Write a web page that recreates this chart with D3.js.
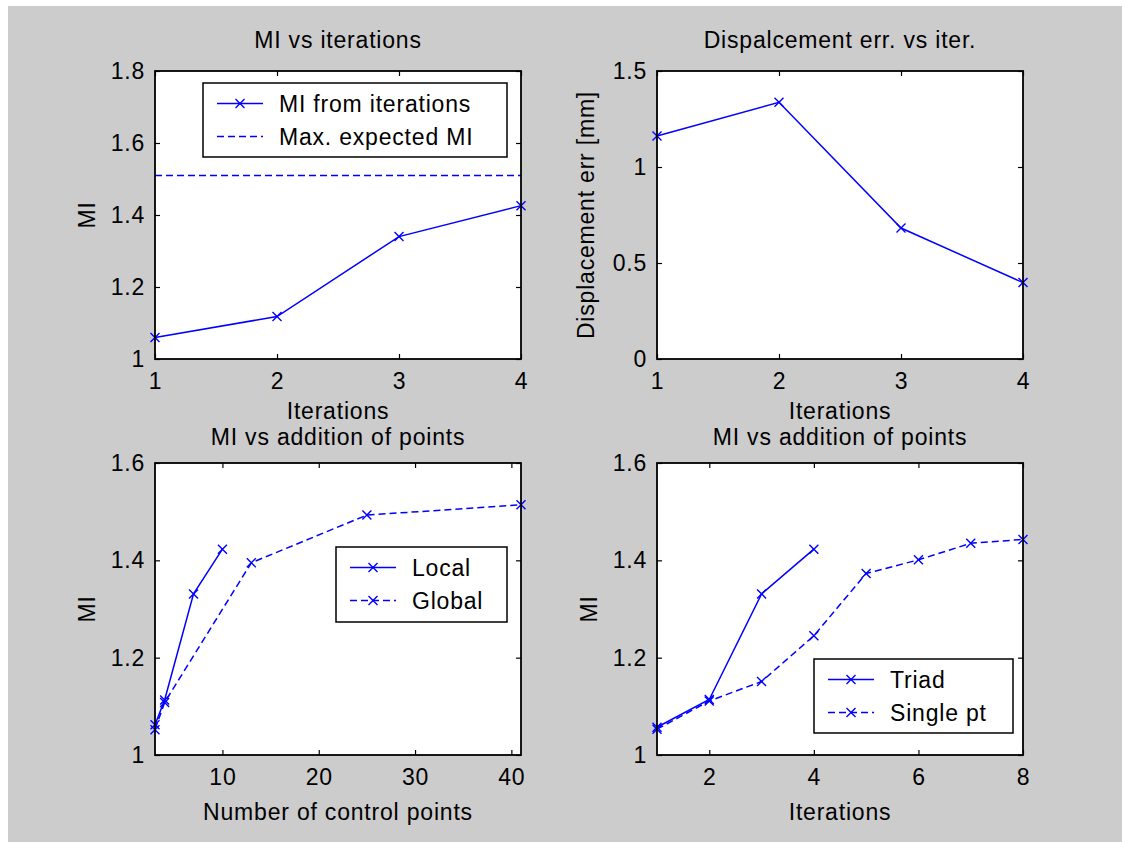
<!DOCTYPE html>
<html>
<head>
<meta charset="utf-8">
<script src="https://cdn.jsdelivr.net/npm/d3@7"></script>
<style>
  html, body { margin: 0; padding: 0; background: #fff; }
  svg text { font-family: "Liberation Sans", Arial, Helvetica, sans-serif; fill: #000; letter-spacing: 0.8px; }
</style>
</head>
<body>
<div id="chart"></div>
<script>
// ---- data ----
const iterations = [1, 2, 3, 4];
const miFromIterations = [1.06, 1.118, 1.34, 1.426];
const maxExpectedMI = 1.51;
const displacementErr = [1.161, 1.337, 0.682, 0.398];

const localPoints = [3, 4, 7, 10];
const localMI = [1.062, 1.113, 1.331, 1.423];
const globalPoints = [3, 4, 13, 25, 41];
const globalMI = [1.052, 1.108, 1.395, 1.493, 1.514];

const triadIter = [1, 2, 3, 4];
const triadMI = [1.057, 1.114, 1.331, 1.423];
const singleIter = [1, 2, 3, 4, 5, 6, 7, 8];
const singleMI = [1.053, 1.111, 1.151, 1.245, 1.373, 1.401, 1.435, 1.443];

// tick labels
const iterTicks = [1, 2, 3, 4];
const miTicksTop = [1, 1.2, 1.4, 1.6, 1.8];
const dispTicks = [0, 0.5, 1, 1.5];
const pointTicks = [10, 20, 30, 40];
const miTicksBottom = [1, 1.2, 1.4, 1.6];
const iterTicks8 = [2, 4, 6, 8];

const titles = ['MI vs iterations', 'Dispalcement err. vs iter.', 'MI vs addition of points', 'MI vs addition of points'];
const xLabels = ['Iterations', 'Iterations', 'Number of control points', 'Iterations'];
const yLabels = ['MI', 'Displacement err [mm]', 'MI', 'MI'];

function draw() {
  const W = 1122, H = 842;
  const blue = '#0000ff';
  const fmt = d3.format('~g');

  const svg = d3.select('#chart').append('svg')
    .attr('width', W).attr('height', H);

  svg.append('rect').attr('width', W).attr('height', H).attr('fill', '#fff');
  svg.append('rect').attr('x', 8).attr('y', 6)
    .attr('width', W - 8).attr('height', H - 6).attr('fill', '#cccccc');

  const panels = [
    {
      box: { x: 155, y: 71, w: 366, h: 288 }, xDomain: [1, 4], yDomain: [1, 1.8],
      xTicks: iterTicks, yTicks: miTicksTop, titleDy: 23, xlabelDy: 60, ylabelDx: 60,
      series: [
        { x: iterations, y: miFromIterations, dash: false, marker: true, name: 'MI from iterations' },
        { x: [iterations[0], iterations[iterations.length - 1]], y: [maxExpectedMI, maxExpectedMI], dash: true, marker: false, name: 'Max. expected MI' }
      ],
      legend: { right: 507, top: 83, width: 304, height: 74 }
    },
    {
      box: { x: 657, y: 71, w: 366, h: 288 }, xDomain: [1, 4], yDomain: [0, 1.5],
      xTicks: iterTicks, yTicks: dispTicks, titleDy: 23, xlabelDy: 60, ylabelDx: 63,
      series: [
        { x: iterations, y: displacementErr, dash: false, marker: true }
      ]
    },
    {
      box: { x: 155, y: 463, w: 366, h: 292 }, xDomain: [3, 41], yDomain: [1, 1.6],
      xTicks: pointTicks, yTicks: miTicksBottom, titleDy: 18, xlabelDy: 65, ylabelDx: 60,
      series: [
        { x: localPoints, y: localMI, dash: false, marker: true, name: 'Local' },
        { x: globalPoints, y: globalMI, dash: true, marker: true, name: 'Global' }
      ],
      legend: { right: 507, top: 547, width: 171, height: 75 }
    },
    {
      box: { x: 657, y: 463, w: 366, h: 292 }, xDomain: [1, 8], yDomain: [1, 1.6],
      xTicks: iterTicks8, yTicks: miTicksBottom, titleDy: 18, xlabelDy: 65, ylabelDx: 60,
      series: [
        { x: triadIter, y: triadMI, dash: false, marker: true, name: 'Triad' },
        { x: singleIter, y: singleMI, dash: true, marker: true, name: 'Single pt' }
      ],
      legend: { right: 1013, top: 659, width: 199, height: 74 }
    }
  ];

  const tick = 5;
  const fontSize = 23;

  // draws an 'x' marker centred on (cx, cy)
  function cross(g, cx, cy) {
    const s = 4.5;
    g.append('path')
      .attr('d', `M${cx - s},${cy - s}L${cx + s},${cy + s}M${cx - s},${cy + s}L${cx + s},${cy - s}`)
      .attr('stroke', blue).attr('stroke-width', 1.4).attr('fill', 'none');
  }

  panels.forEach((p, i) => {
    const b = p.box;
    const g = svg.append('g').attr('transform', `translate(${b.x},${b.y})`);

    const x = d3.scaleLinear().domain(p.xDomain).range([0, b.w]);
    const y = d3.scaleLinear().domain(p.yDomain).range([b.h, 0]);

    g.append('rect').attr('width', b.w).attr('height', b.h).attr('fill', '#fff');

    // axes with inward ticks on all four sides
    const styleAxis = sel => {
      sel.select('.domain').remove();
      sel.selectAll('.tick line').attr('stroke', '#000').attr('stroke-width', 1.2);
      sel.selectAll('.tick text').attr('font-size', fontSize).attr('fill', '#000');
    };

    g.append('g').attr('transform', `translate(0,${b.h})`)
      .call(d3.axisBottom(x).tickValues(p.xTicks).tickFormat(fmt)
        .tickSizeInner(-tick).tickSizeOuter(0).tickPadding(14))
      .call(styleAxis);
    g.append('g')
      .call(d3.axisTop(x).tickValues(p.xTicks).tickFormat('')
        .tickSizeInner(-tick).tickSizeOuter(0))
      .call(styleAxis);
    g.append('g')
      .call(d3.axisLeft(y).tickValues(p.yTicks).tickFormat(fmt)
        .tickSizeInner(-tick).tickSizeOuter(0).tickPadding(10))
      .call(styleAxis);
    g.append('g').attr('transform', `translate(${b.w},0)`)
      .call(d3.axisRight(y).tickValues(p.yTicks).tickFormat('')
        .tickSizeInner(-tick).tickSizeOuter(0))
      .call(styleAxis);

    g.selectAll('.tick text').style('font-family', '"Liberation Sans", Arial, sans-serif');

    // series
    const line = d3.line().x(d => x(d[0])).y(d => y(d[1]));
    p.series.forEach(s => {
      const pts = s.x.map((v, k) => [v, s.y[k]]);
      g.append('path').datum(pts)
        .attr('d', line)
        .attr('fill', 'none')
        .attr('stroke', blue)
        .attr('stroke-width', 1.5)
        .attr('stroke-dasharray', s.dash ? '7,4' : null);
      if (s.marker) pts.forEach(d => cross(g, x(d[0]), y(d[1])));
    });

    // frame
    g.append('rect').attr('width', b.w).attr('height', b.h)
      .attr('fill', 'none').attr('stroke', '#000').attr('stroke-width', 1.8);

    // title and labels
    g.append('text').attr('x', b.w / 2).attr('y', -p.titleDy)
      .attr('text-anchor', 'middle').attr('font-size', fontSize).text(titles[i]);
    g.append('text').attr('x', b.w / 2).attr('y', b.h + p.xlabelDy)
      .attr('text-anchor', 'middle').attr('font-size', fontSize).text(xLabels[i]);
    g.append('text')
      .attr('transform', `translate(${-p.ylabelDx},${b.h / 2}) rotate(-90)`)
      .attr('text-anchor', 'middle').attr('font-size', fontSize).text(yLabels[i]);

    // legend
    if (p.legend) {
      const L = p.legend;
      const lg = svg.append('g').attr('transform', `translate(${L.right - L.width},${L.top})`);
      lg.append('rect').attr('width', L.width).attr('height', L.height)
        .attr('fill', '#fff').attr('stroke', '#000').attr('stroke-width', 1.5);
      const rowY = [20.5, 53.5];
      p.series.forEach((s, k) => {
        const ry = rowY[k];
        lg.append('line').attr('x1', 14).attr('x2', 60).attr('y1', ry).attr('y2', ry)
          .attr('stroke', blue).attr('stroke-width', 1.5)
          .attr('stroke-dasharray', s.dash ? '7,4' : null);
        if (s.marker) cross(lg, 37, ry);
        lg.append('text').attr('x', 76).attr('y', ry).attr('dy', '0.35em')
          .attr('font-size', fontSize).text(s.name);
      });
    }
  });
}

draw();
</script>
</body>
</html>
